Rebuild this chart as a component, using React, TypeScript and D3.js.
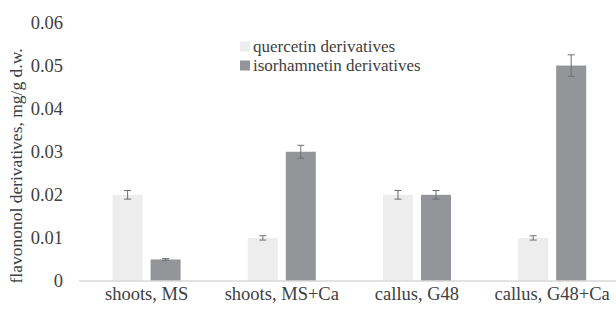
import * as React from "react";
import { scaleBand, scaleLinear } from "d3";

const categories = ["shoots, MS", "shoots, MS+Ca", "callus, G48", "callus, G48+Ca"];
const seriesNames = ["quercetin derivatives", "isorhamnetin derivatives"];
const quercetin = [0.02, 0.01, 0.02, 0.01];
const isorhamnetin = [0.005, 0.03, 0.02, 0.05];
const quercetinErr = [0.001, 0.0005, 0.001, 0.0005];
const isorhamnetinErr = [0.0002, 0.0015, 0.001, 0.0025];
const yTicks = [0, 0.01, 0.02, 0.03, 0.04, 0.05, 0.06];

const colors = ["#ededed", "#939598"];
const font = "'Liberation Serif', 'Times New Roman', serif";

const App: React.FC = () => {
    const width = 616, height = 313;
    const x = scaleBand().domain(categories).range([79, 619.8]).padding(0);
    const y = scaleLinear().domain([0, 0.06]).range([281, 22.5]);
    const barW = 30, gap = 8;

    const series = [
        { values: quercetin, errs: quercetinErr, offset: -gap / 2 - barW },
        { values: isorhamnetin, errs: isorhamnetinErr, offset: gap / 2 },
    ];

    return (
        <svg width={width} height={height}
             style={{ position: "fixed", left: 0, top: 0, background: "#fff" }}
             fontFamily={font}>
            {/* y tick labels */}
            {yTicks.map(t => (
                <text key={t} x={63} y={y(t)} dy="0.35em" textAnchor="end"
                      fontSize={18.5} fill="#404040">{t === 0 ? "0" : t.toFixed(2)}</text>
            ))}
            <text transform={`translate(22,166) rotate(-90)`} textAnchor="middle"
                  fontSize={17.5} fill="#404040">flavononol derivatives, mg/g d.w.</text>

            {/* bars */}
            {series.map((s, si) => categories.map((c, i) => {
                const cx = (x(c) as number) + x.bandwidth() / 2;
                const bx = cx + s.offset;
                return (
                    <rect key={`${si}-${i}`} x={bx} y={y(s.values[i])} width={barW}
                          height={y(0) - y(s.values[i])} fill={colors[si]} />
                );
            }))}

            {/* baseline */}
            <line x1={79} x2={616} y1={y(0)} y2={y(0)} stroke="#d9d9d9" strokeWidth={1.3} />

            {/* error bars */}
            {series.map((s, si) => categories.map((c, i) => {
                const cx = (x(c) as number) + x.bandwidth() / 2 + s.offset + barW / 2;
                const top = y(s.values[i] + s.errs[i]);
                const bot = y(s.values[i] - s.errs[i]);
                return (
                    <g key={`e${si}-${i}`} stroke="#6f6f6f" strokeWidth={1}>
                        <line x1={cx} x2={cx} y1={top} y2={bot} />
                        <line x1={cx - 3.5} x2={cx + 3.5} y1={top} y2={top} />
                        <line x1={cx - 3.5} x2={cx + 3.5} y1={bot} y2={bot} />
                    </g>
                );
            }))}

            {/* category labels */}
            {categories.map(c => (
                <text key={c} x={(x(c) as number) + x.bandwidth() / 2} y={300}
                      textAnchor="middle" fontSize={18.5} fill="#404040">{c}</text>
            ))}

            {/* legend */}
            {seriesNames.map((n, i) => (
                <g key={n} transform={`translate(240,${41.5 + i * 19})`}>
                    <rect x={0} y={0} width={10} height={10} fill={colors[i]} />
                    <text x={13} y={10.5} fontSize={17} fill="#404040">{n}</text>
                </g>
            ))}
        </svg>
    );
};

export default App;
